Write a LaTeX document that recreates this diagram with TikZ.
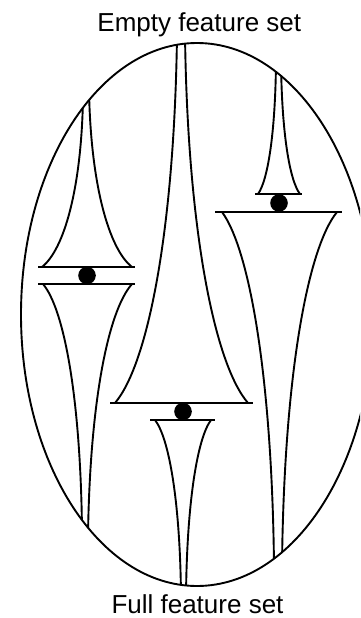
\documentclass[tikz,border=0pt]{standalone}
\usepackage{fontspec}
\setmainfont{Liberation Sans}
\usepackage{tikz}
\usetikzlibrary{positioning}

\tikzset{
  dot/.style={circle, fill=black, draw=none, inner sep=0pt, minimum size=17.6pt},
  caption/.style={font=\fontsize{26}{30}\selectfont, anchor=base, inner sep=0pt}
}

\begin{document}
\begin{tikzpicture}[x=1pt, y=-1pt, line width=1.9pt]
  \useasboundingbox (0,0) rectangle (360,618);
  \clip (0,0) rectangle (360,618);

  \node[caption] (empty) at (199.3,31.5) {Empty feature set};
  \node[caption] (full) at (197.5,613) {Full feature set};

  \draw (197,314.5) ellipse [x radius=176, y radius=271.5];

  \begin{scope}
    \clip (197,314.5) ellipse [x radius=176, y radius=271.5];

    \draw (38,267) -- (135,267);
    \draw (42,267) .. controls (64,249.5) and (81.4,189) .. (83,98);
    \draw (132,267) .. controls (109,249) and (90.7,185) .. (89,90);
    \draw (38,284) -- (135,284);
    \draw (43,284) .. controls (64,309) and (80.5,397) .. (82,530);
    \draw (132,284) .. controls (108,311) and (90,402) .. (88,535);

    \draw (110,403) -- (253,403);
    \draw (115,403) .. controls (148.5,363.5) and (174.5,227) .. (177,35);
    \draw (248,403) .. controls (214,363.5) and (187.5,227) .. (185,35);
    \draw (150,420) -- (215,420);
    \draw (155,420) .. controls (169,438) and (180,501) .. (181,595);
    \draw (211,420) .. controls (197.5,438) and (187,501) .. (186,595);

    \draw (255,194) -- (302,194);
    \draw (258,194) .. controls (267.7,180.6) and (275.3,134) .. (276,62);
    \draw (300,194) .. controls (289.7,180.6) and (281.8,134) .. (281,62);
    \draw (215,212) -- (342,212);
    \draw (222,212) .. controls (250,250) and (272,380) .. (274,565);
    \draw (337,212) .. controls (307,249) and (284,379) .. (282,565);
  \end{scope}

  \node[dot] (dotL) at (87,275.5) {};
  \node[dot] (dotM) at (183,411.5) {};
  \node[dot] (dotR) at (279,203) {};
\end{tikzpicture}
\end{document}
